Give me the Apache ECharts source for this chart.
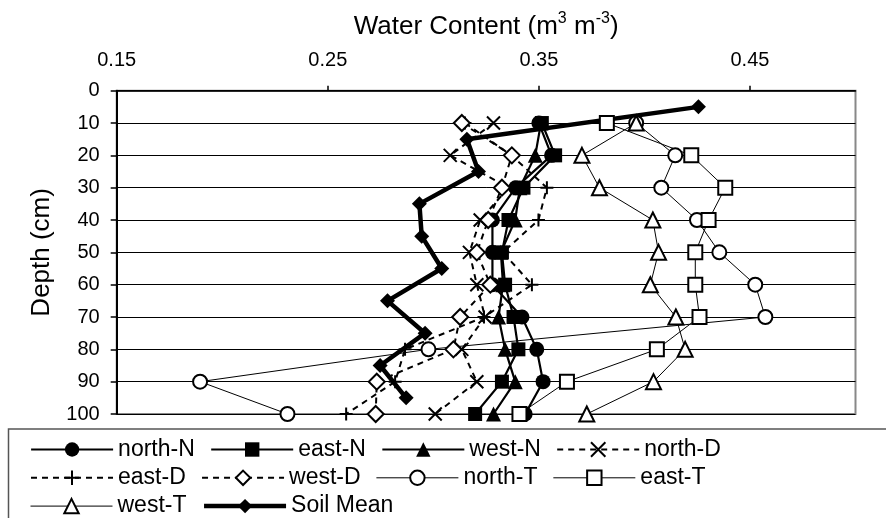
<!DOCTYPE html>
<html>
<head>
<meta charset="utf-8">
<script src="https://cdn.jsdelivr.net/npm/echarts@6/dist/echarts.min.js"></script>
<style>
  html, body { margin: 0; padding: 0; background: #fff; }
  #chart { width: 886px; height: 518px; }
</style>
</head>
<body>
<div id="chart"></div>
<script>
// Depth of each sampling point (cm) and of the soil-mean points
const depths = [10, 20, 30, 40, 50, 60, 70, 80, 90, 100];
const meanDepths = [5, 15, 25, 35, 45, 55, 65, 75, 85, 95];

// Volumetric water content (m3 m-3) per profile
const northN = [0.350, 0.356, 0.339, 0.328, 0.328, 0.328, 0.342, 0.349, 0.352, 0.3435];
const eastN  = [0.3514, 0.3577, 0.3427, 0.3356, 0.3325, 0.334, 0.338, 0.3403, 0.3325, 0.3198];
const westN  = [0.351, 0.3483, 0.341, 0.3388, 0.332, 0.333, 0.3309, 0.334, 0.3388, 0.3285];
const northD = [0.3285, 0.308, 0.3356, 0.3222, 0.3171, 0.3206, 0.3245, 0.3135, 0.3206, 0.3009];
const eastD  = [0.315, 0.337, 0.3538, 0.3498, 0.333, 0.3467, 0.324, 0.2866, 0.2819, 0.2587];
const westD  = [0.3135, 0.3372, 0.3325, 0.326, 0.3206, 0.327, 0.3127, 0.3095, 0.2732, 0.2727];
const northT = [0.3961, 0.4146, 0.408, 0.4249, 0.4355, 0.4525, 0.4573, 0.2977, 0.1895, 0.2309];
const eastT  = [0.3822, 0.4222, 0.4383, 0.4304, 0.4241, 0.4241, 0.4261, 0.4059, 0.3633, 0.3408];
const westT  = [0.3961, 0.3704, 0.3787, 0.404, 0.4067, 0.4028, 0.4149, 0.4193, 0.4043, 0.3727];
const soilMean = [0.4256, 0.3159, 0.3214, 0.2934, 0.2945, 0.304, 0.2783, 0.2961, 0.2748, 0.2871];

// Axis ticks
const xTickLabels = [0.15, 0.25, 0.35, 0.45];
const xTickMarks = [0.25, 0.35, 0.45];

const FONT = '"Liberation Sans", Arial, sans-serif';
const CROSS = 'path://M0,0L10,10M10,0L0,10';
const PLUS = 'path://M5,0L5,10M0,5L10,5';

function pairs(xs, ys) {
  return xs.map((v, i) => [v, ys[i]]);
}

function profile(name, values, ys, symbol, size, lineWidth, dashed, hollow) {
  return {
    name: name,
    type: 'line',
    data: pairs(values, ys),
    symbol: symbol,
    symbolSize: size,
    showAllSymbol: true,
    animation: false,
    lineStyle: { color: '#000', width: lineWidth, type: dashed ? [6, 5] : 'solid' },
    itemStyle: {
      color: '#000',
      borderColor: '#000',
      borderWidth: (hollow || symbol.indexOf('path') === 0) ? 2 : 0
    },
    emphasis: { disabled: true }
  };
}

const series = [
  profile('north-N', northN, depths, 'circle', 15, 2.2, false, false),
  profile('east-N', eastN, depths, 'rect', 14, 2.2, false, false),
  profile('west-N', westN, depths, 'triangle', 15, 2.2, false, false),
  profile('north-D', northD, depths, CROSS, 13, 2, true, false),
  profile('east-D', eastD, depths, PLUS, 13, 2, true, false),
  profile('west-D', westD, depths, 'emptyDiamond', 16, 2, true, true),
  profile('north-T', northT, depths, 'emptyCircle', 14, 1, false, true),
  profile('east-T', eastT, depths, 'emptyRect', 14, 1, false, true),
  profile('west-T', westT, depths, 'emptyTriangle', 15, 1, false, true),
  profile('Soil Mean', soilMean, meanDepths, 'diamond', 15, 4.5, false, false)
];

// Legend entries carry the same stroke width as their series line
function legendItems(names) {
  return names.map(n => {
    const s = series.find(x => x.name === n);
    return { name: n, lineStyle: { width: s.lineStyle.width, type: s.lineStyle.type, color: '#000' } };
  });
}

const legendBase = {
  orient: 'horizontal',
  left: 25,
  itemWidth: 82,
  itemHeight: 18,
  itemGap: 15.3,
  selectedMode: false,
  textStyle: { fontFamily: FONT, fontSize: 23, color: '#000', width: 120 }
};

const chart = echarts.init(document.getElementById('chart'), null, { renderer: 'canvas' });
chart.setOption({
  backgroundColor: '#fff',
  animation: false,
  grid: {
    left: 116.7, right: 30.5, top: 90.7, bottom: 104,
    containLabel: false,
    outerBoundsMode: 'none',
    show: true,
    borderColor: '#888',
    borderWidth: 2,
    backgroundColor: '#fff'
  },
  xAxis: {
    type: 'value',
    position: 'top',
    min: 0.15,
    max: 0.5,
    name: 'Water Content (m{s|3} m{s|-3})',
    nameLocation: 'middle',
    nameGap: 48,
    nameTextStyle: {
      fontFamily: FONT, fontSize: 26, color: '#000', lineHeight: 32,
      rich: { s: { fontFamily: FONT, fontSize: 16, verticalAlign: 'top', lineHeight: 16, color: '#000' } }
    },
    axisLine: { show: true, lineStyle: { color: '#000', width: 1.5 } },
    axisTick: { show: true, inside: false, length: 5, customValues: xTickMarks, lineStyle: { color: '#000', width: 1.5 } },
    axisLabel: {
      customValues: xTickLabels,
      margin: 20,
      fontFamily: FONT, fontSize: 20, color: '#000',
      formatter: v => v.toFixed(2)
    },
    splitLine: { show: false }
  },
  yAxis: {
    type: 'value',
    inverse: true,
    min: 0,
    max: 100,
    interval: 10,
    name: 'Depth (cm)',
    nameLocation: 'middle',
    nameGap: 62,
    nameTextStyle: { fontFamily: FONT, fontSize: 26, color: '#000' },
    axisLine: { show: true, lineStyle: { color: '#000', width: 2 } },
    axisTick: { show: true, inside: false, length: 6, lineStyle: { color: '#000', width: 1.5 } },
    axisLabel: { margin: 17, fontFamily: FONT, fontSize: 20, color: '#000' },
    splitLine: { show: true, lineStyle: { color: '#000', width: 1 } }
  },
  legend: [
    Object.assign({}, legendBase, { top: 433, data: legendItems(['north-N', 'east-N', 'west-N', 'north-D']) }),
    Object.assign({}, legendBase, { top: 461.3, data: legendItems(['east-D', 'west-D', 'north-T', 'east-T']) }),
    Object.assign({}, legendBase, { top: 489.6, data: legendItems(['west-T', 'Soil Mean']) })
  ],
  graphic: [{
    type: 'rect',
    z: -1,
    shape: { x: 8.5, y: 429, width: 900, height: 120 },
    style: { fill: 'none', stroke: '#555', lineWidth: 1.5 }
  }],
  series: series
});
</script>
</body>
</html>
